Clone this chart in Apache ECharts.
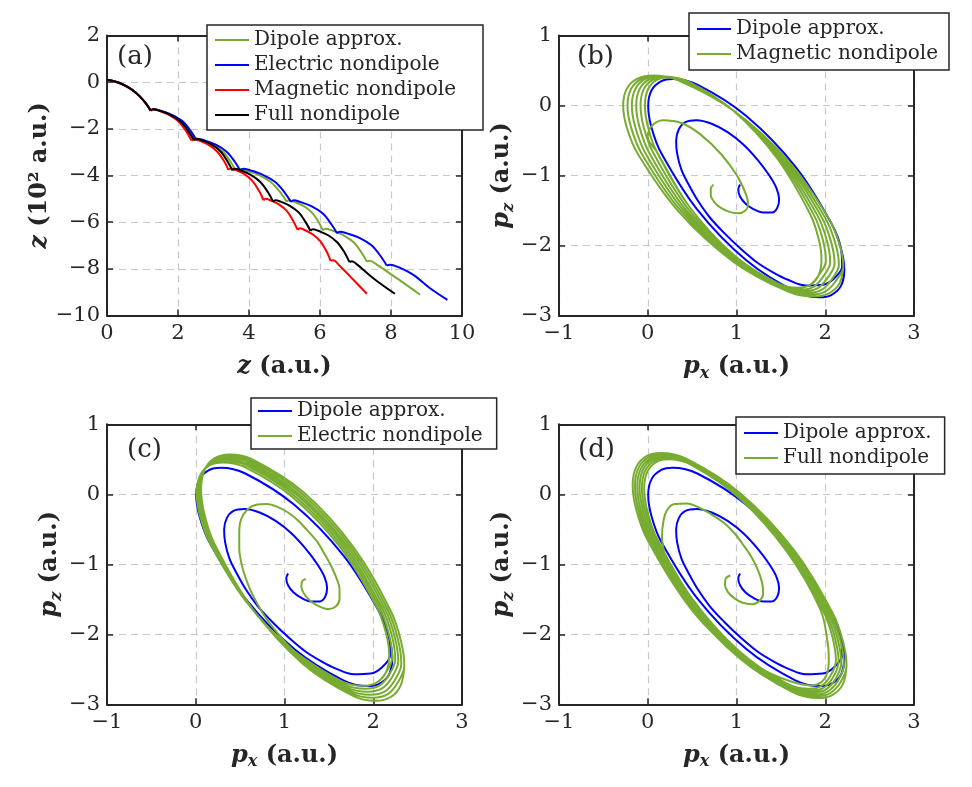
<!DOCTYPE html>
<html><head><meta charset="utf-8">
<script src="https://cdn.jsdelivr.net/npm/echarts/dist/echarts.min.js"></script>
<style>html,body{margin:0;padding:0;background:#fff}#c{width:972px;height:787px}</style>
</head><body><div id="c"></div>
<script>
// ---------------- Panel (a): z trajectories, segments between cusps ----------------
const segCommon = [[0,0.1],[0.2,0.04],[0.45,-0.1],[0.7,-0.32],[0.93,-0.62],[1.1,-0.92],[1.23,-1.22]];

const dipoleA = [
  segCommon,
  [[1.23,-1.22],[1.30,-1.16],[1.47,-1.22],[1.78,-1.40],[2.07,-1.69],[2.31,-2.12],[2.46,-2.49]],
  [[2.46,-2.49],[2.53,-2.43],[2.69,-2.49],[2.98,-2.67],[3.26,-2.97],[3.48,-3.41],[3.62,-3.78]],
  [[3.62,-3.78],[3.71,-3.71],[3.91,-3.78],[4.27,-3.97],[4.61,-4.28],[4.89,-4.73],[5.06,-5.12]],
  [[5.06,-5.12],[5.12,-5.06],[5.26,-5.12],[5.52,-5.29],[5.76,-5.57],[5.96,-5.99],[6.08,-6.35]],
  [[6.08,-6.35],[6.15,-6.28],[6.33,-6.35],[6.64,-6.54],[6.94,-6.85],[7.17,-7.30],[7.32,-7.69]],
  [[7.32,-7.69],[7.40,-7.65],[7.60,-7.82],[8.16,-8.40],[8.82,-9.11]]
];
const electricA = [
  segCommon,
  [[1.23,-1.22],[1.30,-1.16],[1.49,-1.21],[1.81,-1.39],[2.13,-1.68],[2.37,-2.12],[2.53,-2.51]],
  [[2.53,-2.51],[2.60,-2.45],[2.77,-2.51],[3.08,-2.69],[3.37,-2.98],[3.60,-3.41],[3.75,-3.78]],
  [[3.75,-3.78],[3.84,-3.71],[4.04,-3.78],[4.39,-3.97],[4.74,-4.28],[5.01,-4.74],[5.18,-5.13]],
  [[5.18,-5.13],[5.26,-5.06],[5.44,-5.13],[5.77,-5.32],[6.08,-5.63],[6.32,-6.09],[6.48,-6.48]],
  [[6.48,-6.48],[6.56,-6.41],[6.76,-6.48],[7.11,-6.67],[7.45,-6.99],[7.71,-7.46],[7.88,-7.86]],
  [[7.88,-7.86],[7.97,-7.82],[8.21,-7.93],[8.63,-8.26],[9.10,-8.83],[9.59,-9.33]]
];
const magneticA = [
  segCommon,
  [[1.23,-1.22],[1.30,-1.16],[1.46,-1.22],[1.75,-1.40],[2.02,-1.69],[2.24,-2.13],[2.38,-2.50]],
  [[2.38,-2.50],[2.44,-2.44],[2.59,-2.50],[2.85,-2.68],[3.10,-2.97],[3.30,-3.39],[3.42,-3.76]],
  [[3.42,-3.76],[3.48,-3.70],[3.62,-3.76],[3.87,-3.94],[4.10,-4.24],[4.29,-4.68],[4.41,-5.06]],
  [[4.41,-5.06],[4.47,-5.00],[4.60,-5.06],[4.84,-5.24],[5.07,-5.53],[5.25,-5.96],[5.37,-6.33]],
  [[5.37,-6.33],[5.43,-6.26],[5.56,-6.33],[5.79,-6.52],[6.01,-6.82],[6.19,-7.27],[6.30,-7.66]],
  [[6.30,-7.66],[6.37,-7.63],[6.56,-7.88],[6.94,-8.47],[7.32,-9.07]]
];
const fullA = [
  segCommon,
  [[1.23,-1.22],[1.30,-1.16],[1.47,-1.22],[1.78,-1.40],[2.07,-1.69],[2.30,-2.12],[2.45,-2.49]],
  [[2.45,-2.49],[2.51,-2.43],[2.67,-2.49],[2.94,-2.67],[3.20,-2.97],[3.40,-3.41],[3.53,-3.78]],
  [[3.53,-3.78],[3.60,-3.71],[3.76,-3.78],[4.05,-3.97],[4.32,-4.28],[4.54,-4.73],[4.68,-5.12]],
  [[4.68,-5.12],[4.74,-5.06],[4.89,-5.12],[5.15,-5.30],[5.40,-5.58],[5.60,-6.01],[5.73,-6.37]],
  [[5.73,-6.37],[5.80,-6.30],[5.95,-6.37],[6.23,-6.56],[6.49,-6.87],[6.70,-7.32],[6.83,-7.71]],
  [[6.83,-7.71],[6.90,-7.67],[7.05,-7.82],[7.50,-8.40],[8.11,-9.07]]
];

// ---------------- Panels (b)-(d): momentum spirals (px, pz) ----------------
const dipolePath = [
  [1.04,-1.13],[1.02,-1.20],[1.04,-1.30],[1.10,-1.40],[1.19,-1.48],[1.30,-1.53],[1.40,-1.53],[1.46,-1.46],
  [1.48,-1.34],[1.45,-1.18],[1.37,-1.00],[1.24,-0.78],[1.08,-0.56],[0.90,-0.38],[0.72,-0.26],[0.55,-0.21],
  [0.42,-0.24],[0.35,-0.34],[0.32,-0.50],[0.33,-0.68],[0.38,-0.92],[0.47,-1.15],[0.56,-1.35],[0.70,-1.60],
  [0.86,-1.82],[1.05,-2.05],[1.24,-2.25],[1.42,-2.39],[1.58,-2.49],[1.78,-2.57],[1.97,-2.56],[2.10,-2.47],[2.19,-2.30],
  [2.177,-2.043],[2.067,-1.678],[1.663,-0.873],[1.11,-0.15],[0.558,0.297],[0.281,0.379],[0.153,0.348],[0.043,0.217],[0.005,-0.01],[0.043,-0.317],[0.153,-0.682],[0.558,-1.487],[1.11,-2.21],[1.663,-2.657],[1.939,-2.739],[2.067,-2.708],[2.177,-2.577],[2.215,-2.35],
  [2.177,-2.043],[2.067,-1.678],[1.663,-0.873],[1.11,-0.15],[0.558,0.297],[0.281,0.379],[0.153,0.348],[0.043,0.217],[0.005,-0.01],[0.043,-0.317],[0.153,-0.682],[0.558,-1.487],[1.11,-2.21],[1.663,-2.657],[1.939,-2.739],[2.067,-2.708],[2.177,-2.577],[2.215,-2.35]
];

const magneticB = [
  [0.74,-1.13],[0.71,-1.19],[0.71,-1.28],[0.75,-1.38],[0.82,-1.46],[0.92,-1.52],[1.02,-1.54],[1.10,-1.50],
  [1.13,-1.42],[1.11,-1.28],[1.01,-1.01],[0.83,-0.70],[0.60,-0.42],[0.38,-0.25],[0.17,-0.21],[0.04,-0.30],[0.0,-0.45],
  [0.101,-0.661],[0.465,-1.439],[0.963,-2.127],[1.461,-2.539],[1.69,-2.605],[1.825,-2.567],[1.924,-2.429],
  [1.958,-2.20],[1.924,-1.897],[1.825,-1.539],[1.461,-0.761],[0.963,-0.073],[0.465,0.339],[0.236,0.405],[0.101,0.367],[0.002,0.229],[-0.032,0.0],[0.002,-0.303],[0.101,-0.661],[0.465,-1.439],[0.963,-2.127],[1.461,-2.539],[1.69,-2.605],[1.825,-2.567],[1.924,-2.429],
  [2.007,-2.22],[1.972,-1.913],[1.867,-1.552],[1.485,-0.766],[0.963,-0.072],[0.441,0.344],[0.201,0.410],[0.059,0.37],[-0.046,0.231],[-0.081,0.0],[-0.046,-0.307],[0.059,-0.668],[0.441,-1.454],[0.963,-2.148],[1.485,-2.564],[1.726,-2.630],[1.867,-2.59],[1.972,-2.451],
  [2.056,-2.24],[2.019,-1.931],[1.910,-1.566],[1.510,-0.772],[0.963,-0.072],[0.416,0.348],[0.165,0.414],[0.016,0.374],[-0.093,0.233],[-0.130,0.0],[-0.093,-0.309],[0.016,-0.674],[0.416,-1.468],[0.963,-2.168],[1.510,-2.588],[1.761,-2.654],[1.910,-2.614],[2.019,-2.473],
  [2.105,-2.26],[2.066,-1.948],[1.952,-1.579],[1.534,-0.778],[0.963,-0.071],[0.392,0.352],[0.130,0.419],[-0.026,0.379],[-0.140,0.236],[-0.179,0.0],[-0.140,-0.312],[-0.026,-0.681],[0.392,-1.482],[0.963,-2.189],[1.534,-2.612],[1.796,-2.679],[1.952,-2.639],[2.066,-2.496],
  [2.154,-2.28],[2.113,-1.964],[1.994,-1.592],[1.559,-0.784],[0.963,-0.071],[0.367,0.356],[0.094,0.423],[-0.068,0.382],[-0.187,0.238],[-0.228,0.0],[-0.187,-0.316],[-0.068,-0.688],[0.367,-1.496],[0.963,-2.209],[1.559,-2.636],[1.832,-2.703],[1.994,-2.662],[2.113,-2.518],
  [2.203,-2.30],[2.161,-1.981],[2.037,-1.606],[1.583,-0.79],[0.963,-0.07],[0.343,0.36],[0.059,0.428],[-0.111,0.386],[-0.235,0.241],[-0.277,0.0],[-0.235,-0.319],[-0.111,-0.694],[0.343,-1.51],[0.963,-2.23],[1.583,-2.66],[1.867,-2.728],[2.037,-2.686],[2.161,-2.541],[2.203,-2.30]
];

const electricC = [
  [1.24,-1.21],[1.20,-1.24],[1.19,-1.32],[1.22,-1.42],[1.29,-1.52],[1.39,-1.60],[1.50,-1.64],[1.58,-1.60],
  [1.62,-1.50],[1.62,-1.36],[1.58,-1.18],[1.52,-1.01],[1.45,-0.85],[1.37,-0.68],[1.26,-0.52],[1.15,-0.37],
  [1.04,-0.26],[0.92,-0.18],[0.80,-0.14],[0.68,-0.15],[0.58,-0.22],[0.51,-0.36],[0.49,-0.55],[0.49,-0.77],
  [0.51,-0.96],[0.55,-1.15],[0.61,-1.35],[0.68,-1.53],[0.76,-1.71],[0.85,-1.87],[1.00,-2.10],[1.15,-2.28],
  [1.638,-2.668],[1.884,-2.735],[2.035,-2.693],[2.143,-2.545],
  [2.18,-2.30],[2.143,-1.977],[2.035,-1.598],[1.638,-0.772],[1.095,-0.045],[0.553,0.388],[0.306,0.455],[0.155,0.413],[0.047,0.265],[0.01,0.02],[0.047,-0.303],[0.155,-0.683],[0.553,-1.508],[1.095,-2.235],[1.638,-2.668],[1.884,-2.735],[2.035,-2.693],[2.143,-2.545],
  [2.214,-2.33],[2.177,-1.999],[2.067,-1.611],[1.666,-0.768],[1.117,-0.028],[0.569,0.412],[0.322,0.478],[0.167,0.433],[0.057,0.281],[0.02,0.03],[0.057,-0.301],[0.167,-0.689],[0.569,-1.532],[1.117,-2.272],[1.666,-2.712],[1.912,-2.778],[2.067,-2.733],[2.177,-2.581],
  [2.248,-2.36],[2.210,-2.021],[2.099,-1.625],[1.694,-0.765],[1.139,-0.011],[0.585,0.435],[0.338,0.501],[0.179,0.454],[0.068,0.297],[0.03,0.04],[0.068,-0.299],[0.179,-0.696],[0.585,-1.555],[1.139,-2.309],[1.694,-2.755],[1.940,-2.821],[2.099,-2.774],[2.210,-2.617],
  [2.282,-2.39],[2.244,-2.045],[2.132,-1.64],[1.722,-0.762],[1.161,0.005],[0.601,0.458],[0.354,0.524],[0.19,0.475],[0.078,0.313],[0.04,0.05],[0.078,-0.295],[0.19,-0.70],[0.601,-1.578],[1.161,-2.345],[1.722,-2.798],[1.969,-2.864],[2.132,-2.815],[2.244,-2.653],
  [2.316,-2.42],[2.277,-2.067],[2.164,-1.653],[1.750,-0.759],[1.183,0.022],[0.617,0.481],[0.370,0.547],[0.202,0.495],[0.089,0.329],[0.05,0.06],[0.089,-0.293],[0.202,-0.707],[0.617,-1.601],[1.183,-2.382],[1.750,-2.841],[1.997,-2.907],[2.164,-2.855],[2.277,-2.689],
  [2.35,-2.45],[2.311,-2.089],[2.197,-1.667],[1.778,-0.756],[1.205,0.039],[0.633,0.504],[0.385,0.570],[0.213,0.516],[0.099,0.345],[0.06,0.07],[0.099,-0.291],[0.213,-0.714],[0.633,-1.624],[1.205,-2.419],[1.778,-2.884],[2.025,-2.950],[2.197,-2.896],[2.311,-2.725],[2.35,-2.45]
];

const fullD = [
  [0.93,-1.16],[0.88,-1.20],[0.87,-1.29],[0.90,-1.39],[0.97,-1.48],[1.07,-1.55],[1.18,-1.57],[1.26,-1.52],
  [1.30,-1.42],[1.29,-1.27],[1.24,-1.08],[1.17,-0.90],[1.08,-0.73],[0.98,-0.56],[0.86,-0.41],[0.71,-0.28],
  [0.58,-0.19],[0.44,-0.13],[0.30,-0.14],[0.22,-0.22],[0.18,-0.36],[0.16,-0.61],[0.18,-0.80],[0.21,-0.99],
  [0.27,-1.18],[0.34,-1.37],[0.44,-1.56],[0.56,-1.75],[0.70,-1.94],[0.86,-2.13],[1.05,-2.31],[1.24,-2.47],
  [1.42,-2.58],[1.58,-2.66],[1.72,-2.71],[1.84,-2.73],[1.95,-2.69],[2.02,-2.56],[2.04,-2.37],[2.03,-2.15],
  [1.947,-1.65],[1.558,-0.802],[1.025,-0.045],[0.493,0.418],[0.232,0.499],[0.103,0.465],[-0.004,0.323],[-0.04,0.08],[-0.004,-0.245],[0.103,-0.631],[0.493,-1.478],[1.025,-2.235],[1.558,-2.698],[1.818,-2.779],[1.947,-2.745],[2.054,-2.603],
  [2.12,-2.378],[2.083,-2.048],[1.974,-1.657],[1.574,-0.798],[1.027,-0.032],[0.481,0.436],[0.215,0.517],[0.081,0.481],[-0.029,0.336],[-0.066,0.09],[-0.029,-0.240],[0.081,-0.631],[0.481,-1.49],[1.027,-2.256],[1.574,-2.724],[1.839,-2.805],[1.974,-2.769],[2.083,-2.624],
  [2.15,-2.396],[2.112,-2.062],[2.0,-1.665],[1.590,-0.794],[1.029,-0.019],[0.469,0.454],[0.198,0.535],[0.058,0.498],[-0.054,0.350],[-0.092,0.10],[-0.054,-0.234],[0.058,-0.632],[0.469,-1.502],[1.029,-2.277],[1.590,-2.75],[1.860,-2.831],[2.0,-2.794],[2.112,-2.646],
  [2.18,-2.414],[2.141,-2.074],[2.026,-1.672],[1.606,-0.791],[1.031,-0.006],[0.457,0.471],[0.180,0.553],[0.036,0.514],[-0.079,0.364],[-0.118,0.11],[-0.079,-0.230],[0.036,-0.632],[0.457,-1.513],[1.031,-2.298],[1.606,-2.775],[1.882,-2.857],[2.026,-2.818],[2.141,-2.668],
  [2.21,-2.432],[2.170,-2.088],[2.052,-1.679],[1.622,-0.786],[1.033,0.008],[0.445,0.49],[0.163,0.571],[0.014,0.531],[-0.104,0.378],[-0.144,0.12],[-0.104,-0.224],[0.014,-0.633],[0.445,-1.526],[1.033,-2.32],[1.622,-2.802],[1.903,-2.883],[2.052,-2.843],[2.170,-2.690],
  [2.24,-2.45],[2.199,-2.100],[2.079,-1.686],[1.638,-0.781],[1.035,0.022],[0.433,0.509],[0.147,0.590],[-0.009,0.548],[-0.129,0.392],[-0.17,0.13],[-0.129,-0.220],[-0.009,-0.634],[0.433,-1.539],[1.035,-2.342],[1.638,-2.829],[1.924,-2.910],[2.079,-2.868],[2.199,-2.712],[2.24,-2.45]
];

// axis ticks: min, max, step
const ticksA_x = [0, 10, 2];
const ticksA_y = [-10, 2, 2];
const ticksP_x = [-1, 3, 1];
const ticksP_y = [-3, 1, 1];

const LABELS = {
  a_dip:'Dipole approx.', a_ele:'Electric nondipole', a_mag:'Magnetic nondipole', a_full:'Full nondipole',
  b_dip:'Dipole approx.', b_mag:'Magnetic nondipole',
  c_dip:'Dipole approx.', c_ele:'Electric nondipole',
  d_dip:'Dipole approx.', d_full:'Full nondipole'
};

// ---------------- build ----------------
const FONT = 'DejaVu Serif';
const INK = '#262626';
const GRIDC = '#c8c8d2';
const GREEN = '#77AC30', BLUE = '#0000FF', RED = '#FF0000', BLACK = '#000000';
const GRIDS = [{left:107, top:35.5}, {left:559, top:35.5}, {left:107, top:424.3}, {left:559, top:424.3}];
const fmt = v => (v < 0 ? '\u2212' + Math.abs(v) : String(v));

const NS = 24;
const nameStyle = {
  fontFamily: FONT, fontSize: NS, fontWeight: 'bold', color: INK,
  rich: {
    i: {fontFamily: FONT, fontSize: NS, fontWeight: 'bold', fontStyle: 'italic', color: INK, lineHeight: 30, verticalAlign: 'middle'},
    n: {fontFamily: FONT, fontSize: NS, fontWeight: 'bold', color: INK, lineHeight: 30, verticalAlign: 'middle'},
    s: {fontFamily: FONT, fontSize: 16, fontWeight: 'bold', fontStyle: 'italic', color: INK, lineHeight: 15, verticalAlign: 'bottom'}
  }
};

function axisPair(gi, t, isX, name, nameGap) {
  const common = {type:'value', gridIndex:gi, min:t[0], max:t[1], interval:t[2]};
  const line = {onZero:false, lineStyle:{color:INK, width:2}};
  const tick = {show:true, inside:true, length:6, lineStyle:{color:INK, width:1.5}};
  const prim = Object.assign({}, common, {
    position: isX ? 'bottom' : 'left',
    axisLine: line, axisTick: tick,
    axisLabel: {color:INK, fontFamily:FONT, fontSize:21, margin:isX ? 8 : 7, formatter:fmt},
    splitLine: {show:true, lineStyle:{color:GRIDC, type:[7,5], width:1.2}},
    name: name, nameLocation:'middle', nameGap: nameGap, nameTextStyle: nameStyle
  });
  const sec = Object.assign({}, common, {
    position: isX ? 'top' : 'right',
    axisLine: line, axisTick: tick, axisLabel:{show:false}, splitLine:{show:false}
  });
  return [prim, sec];
}

const xAxes = [], yAxes = [];
const pxName = '{i|p}{s|x}{n| (a.u.)}', pzName = '{i|p}{s|z}{n| (a.u.)}';
[[ticksA_x, ticksA_y, '{i|z}{n| (a.u.)}', '{i|z}{n| (10² a.u.)}'],
 [ticksP_x, ticksP_y, pxName, pzName],
 [ticksP_x, ticksP_y, pxName, pzName],
 [ticksP_x, ticksP_y, pxName, pzName]].forEach((d, gi) => {
  xAxes.push(...axisPair(gi, d[0], true, d[2], 36));
  yAxes.push(...axisPair(gi, d[1], false, d[3], gi === 0 ? 49 : 41));
});

const series = [];
function addLine(gi, name, data, color) {
  series.push({type:'line', name, xAxisIndex:2*gi, yAxisIndex:2*gi, data, symbol:'none', showSymbol:false,
    smooth:0.35, color, lineStyle:{color, width:2}, itemStyle:{color}, animation:false});
}
[[dipoleA,'a_dip',GREEN],[electricA,'a_ele',BLUE],[magneticA,'a_mag',RED],[fullA,'a_full',BLACK]].forEach(([segs,n,c]) => {
  segs.forEach(s => addLine(0, n, s, c));
});
addLine(1, 'b_dip', dipolePath, BLUE); addLine(1, 'b_mag', magneticB, GREEN);
addLine(2, 'c_dip', dipolePath, BLUE); addLine(2, 'c_ele', electricC, GREEN);
addLine(3, 'd_dip', dipolePath, BLUE); addLine(3, 'd_full', fullD, GREEN);

function legend(names, left, top, pad) {
  return {orient:'vertical', left, top, data:names, icon:'rect', itemWidth:34, itemHeight:2,
    itemGap:5, padding:pad, borderColor:INK, borderWidth:1.5, backgroundColor:'#fff', borderRadius:0,
    textStyle:{fontFamily:FONT, fontSize:20, color:INK}, formatter: n => LABELS[n], selectedMode:false};
}

const option = {
  backgroundColor:'#fff', animation:false,
  grid: GRIDS.map(g => ({left:g.left, top:g.top, width:355, height:280, containLabel:false})),
  xAxis: xAxes, yAxis: yAxes, series,
  legend: [
    legend(['a_dip','a_ele','a_mag','a_full'], 207, 25, [5,27,5,8]),
    legend(['b_dip','b_mag'], 689, 13, [6,11,6,8]),
    legend(['c_dip','c_ele'], 251, 398, [3,14,3,7]),
    legend(['d_dip','d_full'], 736, 417, [6,13,6,8])
  ],
  graphic: [
    {type:'text', left:117, top:44, style:{text:'(a)', fontFamily:FONT, fontSize:26, fill:INK}},
    {type:'text', left:577, top:44, style:{text:'(b)', fontFamily:FONT, fontSize:26, fill:INK}},
    {type:'text', left:127, top:437, style:{text:'(c)', fontFamily:FONT, fontSize:26, fill:INK}},
    {type:'text', left:578, top:437, style:{text:'(d)', fontFamily:FONT, fontSize:26, fill:INK}}
  ]
};
const chart = echarts.init(document.getElementById('c'));
chart.setOption(option);
</script></body></html>
